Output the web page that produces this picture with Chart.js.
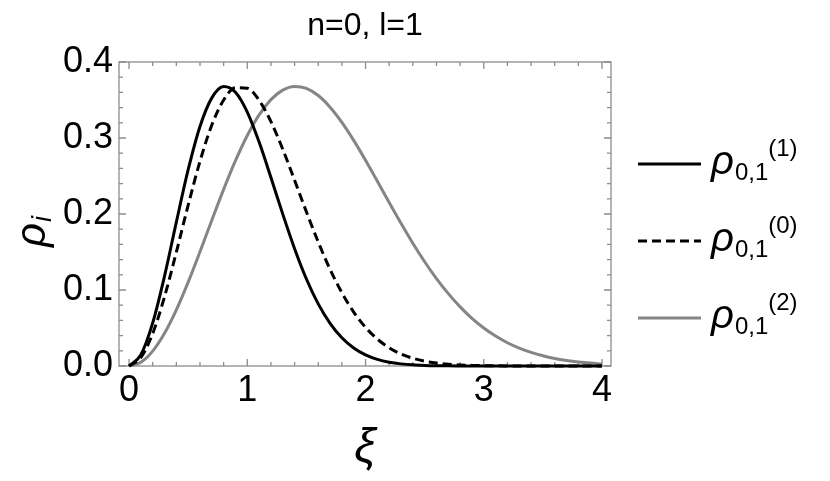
<!DOCTYPE html>
<html>
<head>
<meta charset="utf-8">
<script src="https://cdn.jsdelivr.net/npm/chart.js@4.4.1/dist/chart.umd.min.js"></script>
<style>
html,body{margin:0;padding:0;background:#fff;}
#wrap{width:830px;height:481px;position:relative;}
</style>
</head>
<body>
<div id="wrap"><canvas id="myChart"></canvas></div>
<script>
// xi values along the axis
var xiValues = [0,0.1,0.2,0.3,0.4,0.5,0.6,0.7,0.8,0.9,1.0,1.1,1.2,1.3,1.4,1.5,1.6,1.7,1.8,1.9,2.0,
                2.1,2.2,2.3,2.4,2.5,2.6,2.7,2.8,2.9,3.0,3.1,3.2,3.3,3.4,3.5,3.6,3.7,3.8,3.9,4.0];
// rho_{0,1}^(1)  solid black
var rho1 = [0,0.0148,0.0567,0.1183,0.1893,0.2583,0.3152,0.3528,0.3677,0.3602,0.3341,0.2946,0.2480,0.1998,0.1544,
            0.1145,0.0817,0.0561,0.0371,0.0237,0.0146,0.0087,0.0050,0.0028,0.0015,0.0008,0.0004,0.0002,0.0001,
            0,0,0,0,0,0,0,0,0,0,0,0];
// rho_{0,1}^(0)  dashed black
var rho0 = [0,0.0111,0.0428,0.0911,0.1498,0.2116,0.2694,0.3170,0.3500,0.3662,0.3654,0.3496,0.3216,0.2852,0.2444,
            0.2028,0.1631,0.1272,0.0964,0.0710,0.0508,0.0354,0.0240,0.0158,0.0102,0.0064,0.0039,0.0023,0.0014,
            0.0008,0.0004,0.0002,0.0001,0,0,0,0,0,0,0,0];
// rho_{0,1}^(2)  gray
var rho2 = [0,0.0050,0.0196,0.0430,0.0738,0.1103,0.1504,0.1918,0.2324,0.2701,0.3033,0.3304,0.3505,0.3630,0.3678,
            0.3653,0.3559,0.3406,0.3206,0.2969,0.2707,0.2431,0.2152,0.1878,0.1616,0.1372,0.1150,0.0952,0.0778,
            0.0627,0.0500,0.0394,0.0306,0.0235,0.0179,0.0134,0.0099,0.0073,0.0053,0.0038,0.0027];

var xTicks = [0,1,2,3,4];
var yTicks = [0,0.1,0.2,0.3,0.4];
var seriesSup = ["(1)","(0)","(2)"];
var seriesSub = "0,1";
var plotTitle = "n=0, l=1";

var sans = '"Liberation Sans", Arial, sans-serif';

function pts(ys){
  return xiValues.map(function(x,i){ return {x:x, y:ys[i]}; });
}

// frame, inward ticks, title, axis labels and legend
var decor = {
  id: 'decor',
  beforeDatasetsDraw: function(chart){
    var ctx = chart.ctx, a = chart.chartArea, x = chart.scales.x, y = chart.scales.y;
    ctx.save();
    ctx.strokeStyle = '#8c8c8c';
    ctx.lineWidth = 1.3;
    ctx.strokeRect(a.left, a.top, a.right - a.left, a.bottom - a.top);
    ctx.beginPath();
    for (var i = 0; i <= 20; i++){
      var px = x.getPixelForValue(i * 0.2);
      var L = (i % 5 === 0) ? 7 : 4;
      ctx.moveTo(px, a.bottom); ctx.lineTo(px, a.bottom - L);
      ctx.moveTo(px, a.top); ctx.lineTo(px, a.top + L);
    }
    for (var j = 0; j <= 20; j++){
      var py = y.getPixelForValue(j * 0.02);
      var M = (j % 5 === 0) ? 7 : 4;
      ctx.moveTo(a.left, py); ctx.lineTo(a.left + M, py);
      ctx.moveTo(a.right, py); ctx.lineTo(a.right - M, py);
    }
    ctx.stroke();
    ctx.restore();
  },
  afterDraw: function(chart){
    var ctx = chart.ctx, a = chart.chartArea;
    ctx.save();
    ctx.fillStyle = '#000';
    // title
    ctx.font = '32px ' + sans;
    ctx.textAlign = 'center';
    ctx.textBaseline = 'alphabetic';
    ctx.fillText(plotTitle, (a.left + a.right) / 2, 35);
    // x axis label
    ctx.font = 'italic 48px ' + sans;
    ctx.fillText('ξ', (a.left + a.right) / 2, 462);
    // y axis label, rotated
    ctx.save();
    ctx.translate(45, 247);
    ctx.rotate(-Math.PI / 2);
    ctx.textAlign = 'left';
    ctx.font = 'italic 42px ' + sans;
    ctx.fillText('ρ', 0, 0);
    var w = ctx.measureText('ρ').width;
    ctx.font = 'italic 27px ' + sans;
    ctx.fillText('i', w + 1, 6);
    ctx.restore();
    // legend
    var rows = [164, 241, 318];
    ctx.textAlign = 'left';
    chart.data.datasets.forEach(function(ds, k){
      var ry = rows[k];
      ctx.save();
      ctx.strokeStyle = ds.borderColor;
      ctx.lineWidth = ds.borderWidth;
      ctx.setLineDash(ds.borderDash || []);
      ctx.beginPath();
      ctx.moveTo(638, ry); ctx.lineTo(701, ry);
      ctx.stroke();
      ctx.restore();
      var tx = 711;
      ctx.font = 'italic 40px ' + sans;
      ctx.fillText('ρ', tx, ry + 10);
      tx += ctx.measureText('ρ').width + 1;
      ctx.font = '24px ' + sans;
      ctx.fillText(seriesSub, tx, ry + 16);
      tx += ctx.measureText(seriesSub).width;
      ctx.fillText(seriesSup[k], tx, ry - 8);
    });
    ctx.restore();
  }
};

new Chart("myChart", {
  type: "line",
  data: {
    datasets: [
      {data: pts(rho1), borderColor: '#000000', borderWidth: 3, pointRadius: 0, cubicInterpolationMode: 'monotone', clip: false, order: 1},
      {data: pts(rho0), borderColor: '#000000', borderWidth: 3, borderDash: [9, 5], pointRadius: 0, cubicInterpolationMode: 'monotone', clip: false, order: 2},
      {data: pts(rho2), borderColor: '#858585', borderWidth: 3, pointRadius: 0, cubicInterpolationMode: 'monotone', clip: false, order: 3}
    ]
  },
  options: {
    responsive: true,
    maintainAspectRatio: false,
    animation: false,
    layout: {padding: {top: 62, right: 219, left: 0, bottom: 0}},
    plugins: {legend: {display: false}, title: {display: false}, tooltip: {enabled: false}},
    scales: {
      x: {
        type: 'linear', min: -0.085, max: 4.076,
        afterBuildTicks: function(s){ s.ticks = xTicks.map(function(v){ return {value: v}; }); },
        afterFit: function(s){ s.height = 115; },
        grid: {display: false, drawTicks: false},
        border: {display: false},
        ticks: {color: '#000', font: {size: 36, family: sans}, padding: 3, maxRotation: 0, autoSkip: false,
                callback: function(v){ return String(v); }}
      },
      y: {
        type: 'linear', min: 0, max: 0.4,
        afterBuildTicks: function(s){ s.ticks = yTicks.map(function(v){ return {value: v}; }); },
        afterFit: function(s){ s.width = 119; },
        grid: {display: false, drawTicks: false},
        border: {display: false},
        ticks: {color: '#000', font: {size: 36, family: sans}, padding: 6,
                callback: function(v){ return v.toFixed(1); }}
      }
    }
  },
  plugins: [decor]
});
</script>
</body>
</html>
